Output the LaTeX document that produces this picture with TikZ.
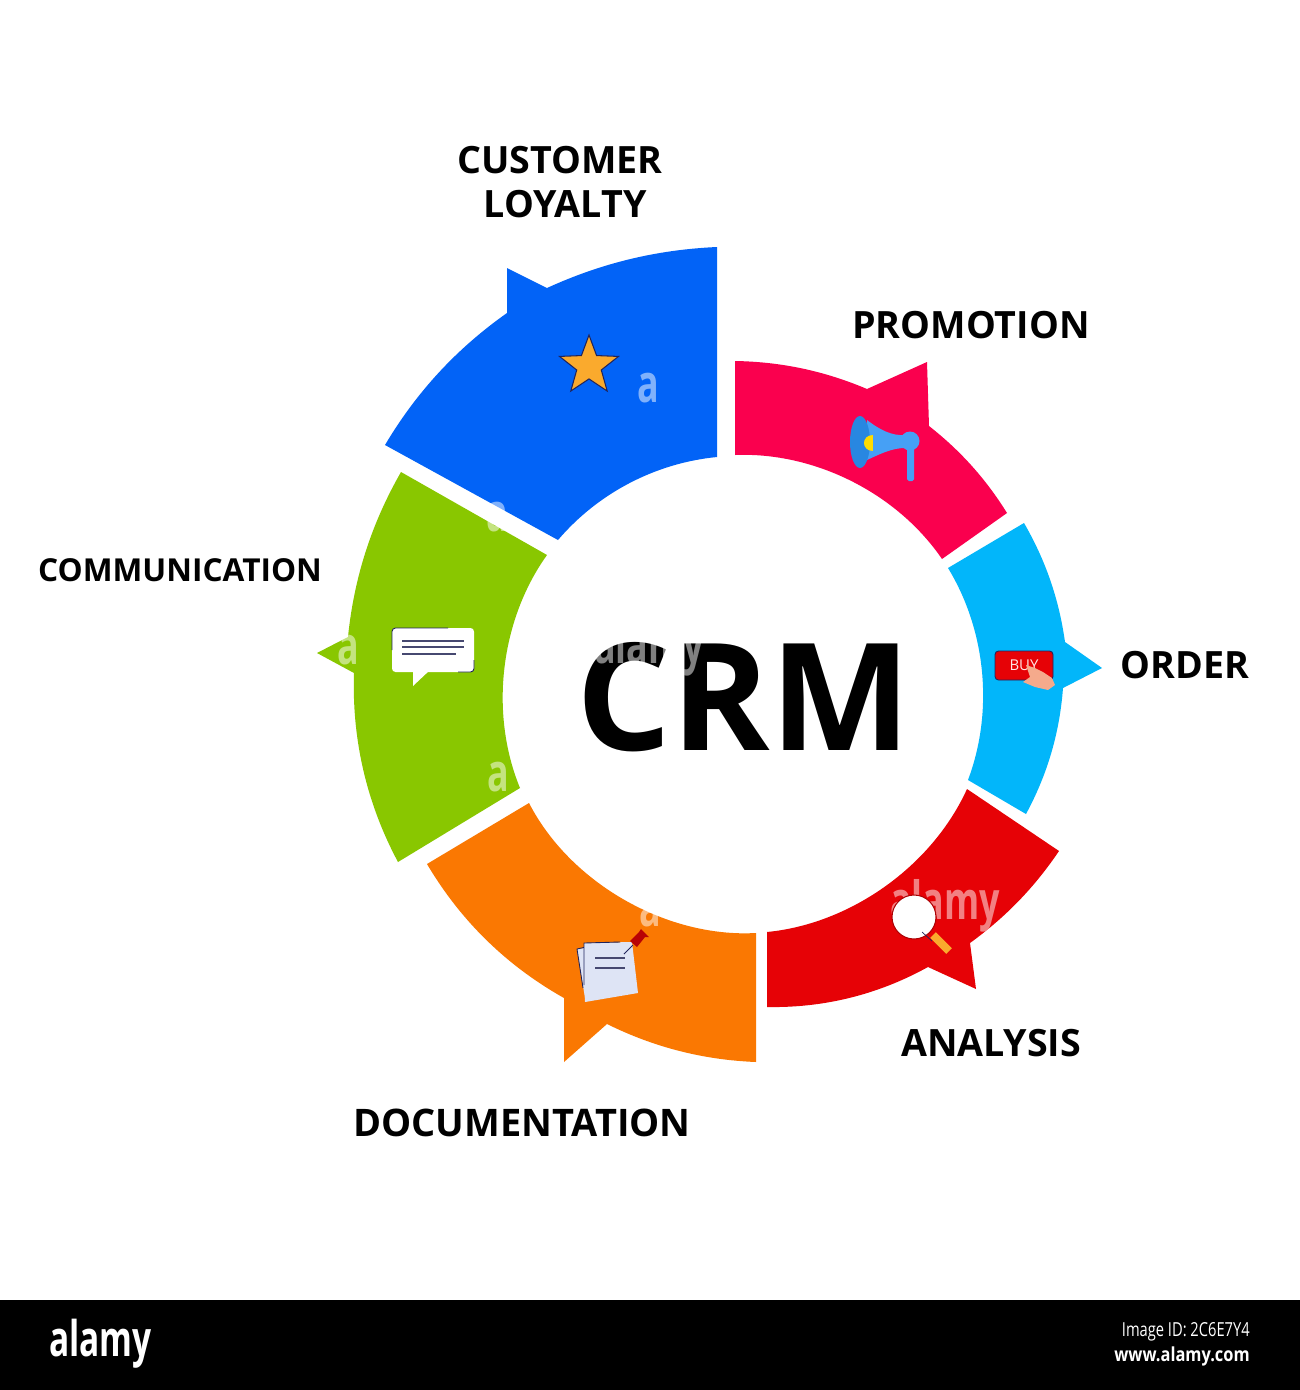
\documentclass[tikz,border=0pt]{standalone}
\usepackage{fontspec}
\setmainfont{Open Sans}
\usepackage{xcolor}
\usetikzlibrary{shapes.geometric, positioning}
\definecolor{loyaltyblue}{RGB}{2,99,247}
\definecolor{promopink}{RGB}{250,0,78}
\definecolor{ordercyan}{RGB}{2,182,250}
\definecolor{analysisred}{RGB}{230,2,6}
\definecolor{docorange}{RGB}{250,120,2}
\definecolor{commgreen}{RGB}{137,199,0}
\definecolor{iconink}{RGB}{32,36,92}
\definecolor{chatline}{RGB}{70,72,112}
\definecolor{iconamber}{RGB}{250,170,45}
\definecolor{hornblue}{RGB}{70,160,245}
\definecolor{belldark}{RGB}{40,135,225}
\definecolor{hornyellow}{RGB}{255,220,0}
\definecolor{notepaper}{RGB}{222,228,245}
\definecolor{skin}{RGB}{245,170,140}
\tikzset{
    segment/.style={draw=none, looseness=0.88},
    caption/.style={font=\bfseries\fontsize{21.4}{25.5}\selectfont, text=black, align=center},
    iconline/.style={chatline, line width=0.6pt},
    stockmark/.style={font=\bfseries\fontsize{30}{30}\selectfont, text=white, opacity=0.5, transform shape, xscale=0.68},
    footer/.style={text=white, transform shape, anchor=east, inner sep=0pt}
}

\begin{document}
\begin{tikzpicture}[x=0.02cm, y=-0.02cm]
    \useasboundingbox (0,0) rectangle (1300,1390);
    \fill[white] (0,0) rectangle (1300,1390);

    % Ring segments
    \fill[segment, loyaltyblue] (717,247) to[bend right=11] (547,288) -- (507,268) -- (507,313)
        to[bend right=12] (385,445) -- (558,540) to[bend left=22] (717,457) -- cycle;
    \fill[segment, promopink] (735,361) to[bend left=11] (867,389) -- (927,362) -- (929,426)
        to[bend left=10] (1007,513) -- (942,559) to[bend right=29] (735,455) -- cycle;
    \fill[segment, ordercyan] (1024,523) to[bend left=11] (1065,642) -- (1102,668) -- (1063,688)
        to[bend left=12] (1026,814) -- (968,780) to[bend right=26] (948,568) -- cycle;
    \fill[segment, analysisred] (1059,851) to[bend left=10] (970,943) -- (976,989) -- (928,967)
        to[bend left=15] (767,1007) -- (767,932) to[bend right=30] (967,789) -- cycle;
    \fill[segment, docorange] (756,1062) to[bend left=12] (607,1024) -- (564,1062) -- (564,998)
        to[bend left=15] (427,864) -- (529,803) to[bend right=33] (756,933) -- cycle;
    \fill[segment, commgreen] (398,862) to[bend left=15] (354,673) -- (317,653) -- (348,637)
        to[bend left=12] (401,472) -- (547,555) to[bend right=29] (520,788) -- cycle;

    % Labels
    \node[caption] (loyalty) at (560,182) {CUSTOMER\\\hspace*{0.2cm}LOYALTY};
    \node[caption] (promotion) at (971,325) {PROMOTION};
    \node[caption] (order) at (1185,665) {ORDER};
    \node[caption] (analysis) at (991,1043) {ANALYSIS};
    \node[caption, font=\bfseries\fontsize{21.6}{25.5}\selectfont] (documentation) at (522,1123) {DOCUMENTATION};
    \node[caption, font=\bfseries\fontsize{18}{20}\selectfont] (communication) at (180,570) {COMMUNICATION};
    \node[font=\bfseries\fontsize{85}{85}\selectfont] (crm) at (744,697) {CRM};

    % Star icon
    \node[star, star points=5, star point ratio=2.4, minimum size=1.24cm, inner sep=0pt,
        fill=iconamber, draw=iconink, line width=0.6pt] (staricon) at (589,366) {};

    % Megaphone icon
    \fill[hornblue] (867,420) .. controls (880,430) and (892,436) .. (905,435) -- (905,448)
        .. controls (892,448) and (880,454) .. (867,460) -- cycle;
    \fill[belldark] (860,442) ellipse[x radius=10, y radius=26];
    \fill[hornyellow] (873,435) .. controls (861,435) and (861,451) .. (873,451) -- cycle;
    \fill[hornblue] (910,441) circle[radius=0.19cm];
    \fill[hornblue, rounded corners=1pt] (907,445) rectangle (914,481);

    % Buy button icon
    \node[fill=analysisred, draw=iconink, line width=0.5pt, rounded corners=2pt, minimum width=1.16cm,
        minimum height=0.58cm, inner sep=0pt, text=white!90!red, font=\fontsize{8.5}{8.5}\selectfont] (buy) at (1024,665.5) {BUY};
    \fill[skin] (1026,665) -- (1035,668) -- (1043,672) -- (1052,678) -- (1055,685) -- (1048,690)
        -- (1035,687) -- (1023,682) -- (1030,677) -- cycle;

    % Chat icon
    \fill[white, rounded corners=2pt] (392,628) rectangle (474,672);
    \fill[white] (413,670) -- (413,686) -- (430,670) -- cycle;
    \draw[iconline] (402,641) -- (464,641) (402,647) -- (464,647) (402,654) -- (456,654);
    \draw[iconink, line width=0.5pt, rounded corners=2pt] (392,650) -- (392,628) -- (448,628) (474,660) -- (474,672) -- (458,672);

    % Watermark
    \node[stockmark] (markred) at (945,906) {alamy};
    \node[stockmark] (markcrm) at (649,650) {alamy};
    \node[stockmark] (markblue) at (648,388) {a};
    \node[stockmark] (markgreen) at (348,650) {a};
    \node[stockmark] (marklow) at (498,777) {a};
    \node[stockmark] (markgap) at (497,517) {a};
    \node[stockmark] (markorange) at (650,912) {a};

    % Magnifier icon
    \draw[iconamber, line width=0.16cm] (933,935) -- (949,951);
    \node[circle, fill=white, draw=analysisred!75!black, line width=0.6pt, minimum size=0.88cm, inner sep=0pt] (lens) at (914,917) {};
    \draw[iconink, line width=0.4pt] (922,932) -- (932,941);

    % Note icon
    \fill[notepaper] (577,949) -- (624,943) -- (632,990) -- (585,998) -- cycle;
    \draw[iconink, line width=0.5pt] (583,988) -- (577,949) -- (586,947);
    \fill[notepaper] (584,943) -- (632,942) -- (638,993) -- (585,1002) -- cycle;
    \draw[iconink, line width=0.5pt] (584,985) -- (584,943) -- (620,942);
    \draw[iconline] (595,958) -- (625,958) (595,968) -- (625,968);
    \draw[iconink, line width=0.5pt] (624,954) -- (633,945);
    \fill[analysisred!80!black] (630,941) -- (639,932) -- (641,929) -- (649,937) -- (645,937) -- (637,947) -- cycle;

    % Footer
    \fill[black] (0,1300) rectangle (1300,1390);
    \node[footer, font=\bfseries\fontsize{28}{28}\selectfont, xscale=0.68] (brand) at (152,1344) {alamy};
    \node[footer, font=\fontsize{11}{11}\selectfont, xscale=0.76] (imageid) at (1250,1332) {Image ID: 2C6E7Y4};
    \node[footer, font=\bfseries\fontsize{11}{11}\selectfont, xscale=0.85] (website) at (1250,1356) {www.alamy.com};
\end{tikzpicture}
\end{document}
